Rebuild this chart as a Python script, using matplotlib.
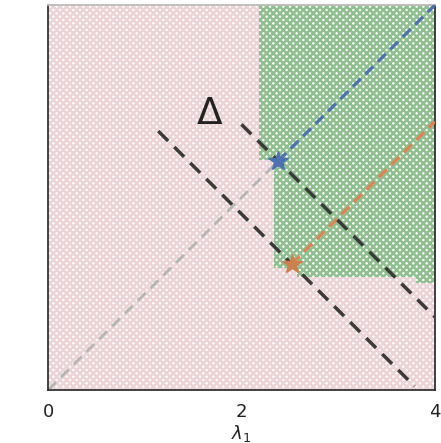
import matplotlib
matplotlib.use('Agg')
import matplotlib.pyplot as plt
import numpy as np

# feasible (green) region outline
green_x = [2.18, 2.18, 2.34, 2.34, 2.57, 2.57, 3.81, 3.81, 4.0, 4.0]
green_y = [4.0, 2.39, 2.39, 1.27, 1.27, 1.17, 1.17, 1.11, 1.11, 4.0]

# points
blue_pt = (2.38, 2.38)
orange_pt = (2.52, 1.31)

# level lines x + y = c
level_c = [3.83, 4.76]
level_x0 = [1.14, 2.0]
level_x1 = [3.79, 4.0]

xticks = [0, 2, 4]

plt.rcParams['hatch.linewidth'] = 1.8
fig = plt.figure(figsize=(4.41, 4.43), dpi=100)
ax = fig.add_axes([0.109, 0.1196, 0.877, 0.869])

# background
ax.fill([0, 4, 4, 0], [0, 0, 4, 4], facecolor='white', edgecolor='#ebd3d6',
        hatch='xxxxx', linewidth=0, zorder=0)
ax.fill(green_x, green_y, facecolor='white', edgecolor='#8fbe8f',
        hatch='xxxxx', linewidth=0, zorder=1)

# diagonal
ax.plot([0, blue_pt[0]], [0, blue_pt[1]], ls=(0, (4, 2.5)), color='#b5b5b5', lw=2, zorder=2)
ax.plot([blue_pt[0], 4], [blue_pt[1], 4], ls=(0, (3.5, 2)), color='#4c72b0', lw=2.3, zorder=3)
ax.plot([orange_pt[0], 4], [orange_pt[1], orange_pt[1] + 4 - orange_pt[0]],
        ls=(0, (3.5, 2)), color='#dd8452', lw=2.3, zorder=3)

for c, a, b in zip(level_c, level_x0, level_x1):
    xs = np.array([a, b])
    ax.plot(xs, c - xs, ls=(0, (4, 2.5)), color='#3a3a3a', lw=2.5, zorder=4)

ax.plot(*blue_pt, marker='*', ms=15, color='#4c72b0', zorder=5)
ax.plot(*orange_pt, marker='*', ms=15, color='#cc8050', zorder=5)

ax.text(1.67, 2.87, r'$\Delta$', fontsize=27, ha='center', va='center', color='#222222')

ax.set_xlim(0, 4)
ax.set_ylim(0, 4)
ax.set_xticks(xticks)
ax.set_xticklabels([str(t) for t in xticks], fontsize=13, color='#222222')
ax.set_yticks([])
ax.tick_params(axis='x', length=0, pad=9)
ax.set_xlabel(r'$\lambda_1$', fontsize=13, labelpad=2, color='#222222')
for s in ['left', 'bottom', 'right']:
    ax.spines[s].set_color('#333333')
    ax.spines[s].set_linewidth(1.3)
ax.spines['top'].set_color('#bbbbbb')
ax.spines['top'].set_linewidth(1.3)

plt.savefig('out.png', dpi=100)
